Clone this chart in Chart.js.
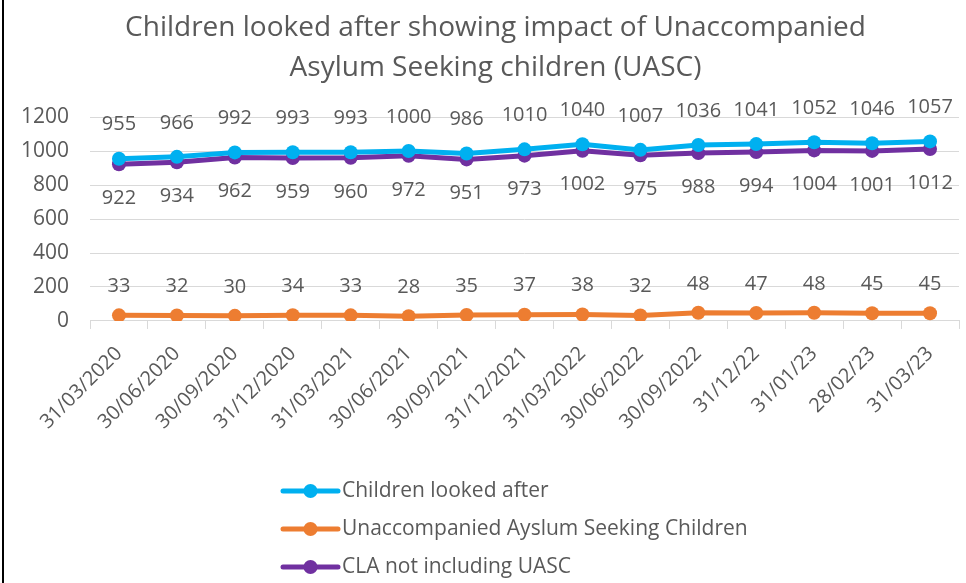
<!DOCTYPE html>
<html>
<head>
<meta charset="utf-8">
<script src="https://cdn.jsdelivr.net/npm/chart.js@4.4.0/dist/chart.umd.min.js"></script>
<style>
html,body{margin:0;padding:0;background:#fff;}
#wrap{position:absolute;left:0;top:0;width:966px;height:583px;}
#edge{position:absolute;left:2px;top:0;width:2px;height:583px;background:#000;}
canvas{display:block;}
</style>
</head>
<body>
<div id="wrap"><canvas id="c" width="966" height="583"></canvas></div>
<div id="edge"></div>
<script>
const categories = ["31/03/2020","30/06/2020","30/09/2020","31/12/2020","31/03/2021","30/06/2021","30/09/2021","31/12/2021","31/03/2022","30/06/2022","30/09/2022","31/12/22","31/01/23","28/02/23","31/03/23"];
const childrenLookedAfter = [955,966,992,993,993,1000,986,1010,1040,1007,1036,1041,1052,1046,1057];
const uasc = [33,32,30,34,33,28,35,37,38,32,48,47,48,45,45];
const claNotUasc = [922,934,962,959,960,972,951,973,1002,975,988,994,1004,1001,1012];
const seriesNames = ["Children looked after","Unaccompanied Ayslum Seeking Children","CLA not including UASC"];
const yTicks = [0,200,400,600,800,1000,1200];
const titleLines = ["Children looked after showing impact of Unaccompanied","Asylum Seeking children (UASC)"];

const FONT = "'Open Sans', sans-serif";
const TXT = '#595959';

const titleShift = {
  id: 'titleShift',
  afterLayout(chart) {
    if (chart.titleBlock) { chart.titleBlock.left = 28; }
  }
};

const labelPlugin = {
  id: 'valueLabels',
  afterDatasetsDraw(chart) {
    const ctx = chart.ctx;
    ctx.save();
    ctx.font = '20px ' + FONT;
    ctx.fillStyle = TXT;
    ctx.textAlign = 'center';
    ctx.textBaseline = 'middle';
    chart.data.datasets.forEach((ds, i) => {
      const meta = chart.getDatasetMeta(i);
      const off = ds.labelOffset;
      meta.data.forEach((pt, j) => {
        ctx.fillText(String(ds.data[j]), pt.x, pt.y + off);
      });
    });
    ctx.restore();
  }
};

const legendPlugin = {
  id: 'vLegend',
  afterDraw(chart) {
    const ctx = chart.ctx;
    ctx.save();
    const x0 = 283, lineLen = 55, rows = [491, 529, 567];
    chart.data.datasets.forEach((ds, i) => {
      const y = rows[i];
      ctx.strokeStyle = ds.borderColor;
      ctx.lineWidth = 5;
      ctx.lineCap = 'round';
      ctx.beginPath();
      ctx.moveTo(x0, y);
      ctx.lineTo(x0 + lineLen, y);
      ctx.stroke();
      ctx.fillStyle = ds.backgroundColor;
      ctx.beginPath();
      ctx.arc(x0 + lineLen / 2, y, 7, 0, Math.PI * 2);
      ctx.fill();
      ctx.fillStyle = TXT;
      ctx.font = '21px ' + FONT;
      ctx.textAlign = 'left';
      ctx.textBaseline = 'middle';
      ctx.fillText(ds.label, x0 + lineLen + 4, y);
    });
    ctx.restore();
  }
};

function mk(label, data, color, off) {
  return {
    label: label, data: data,
    borderColor: color, backgroundColor: color,
    borderWidth: 5, pointRadius: 7, pointHoverRadius: 7,
    pointBorderWidth: 0, tension: 0, labelOffset: off
  };
}

new Chart(document.getElementById('c'), {
  type: 'line',
  data: {
    labels: categories,
    datasets: [
      mk(seriesNames[0], childrenLookedAfter, '#00B0F0', -34),
      mk(seriesNames[1], uasc, '#ED7D31', -29),
      mk(seriesNames[2], claNotUasc, '#7030A0', 34)
    ]
  },
  options: {
    responsive: false,
    animation: false,
    layout: { padding: { left: 10, right: 3, top: 8, bottom: 136 } },
    plugins: {
      legend: { display: false },
      tooltip: { enabled: false },
      title: {
        display: true,
        text: titleLines,
        color: TXT,
        font: { family: FONT, size: 28, weight: 'normal', lineHeight: 1.43 },
        padding: { top: 0, bottom: 29 }
      }
    },
    scales: {
      x: {
        offset: true,
        grid: { display: true, drawOnChartArea: false, drawTicks: true, tickLength: 8, color: '#d9d9d9', offset: true },
        border: { display: true, color: '#d9d9d9', width: 1 },
        ticks: {
          color: TXT, font: { family: FONT, size: 20 },
          minRotation: 45, maxRotation: 45, autoSkip: false, padding: 13
        }
      },
      y: {
        min: 0, max: 1200,
        afterBuildTicks(axis) { axis.ticks = yTicks.map(v => ({ value: v })); },
        afterFit(axis) { axis.width = 80; },
        grid: { color: '#d9d9d9', lineWidth: 1, drawTicks: false },
        border: { display: false },
        ticks: { color: TXT, font: { family: FONT, size: 21 }, padding: 21, callback: v => String(v) }
      }
    }
  },
  plugins: [titleShift, labelPlugin, legendPlugin]
});
</script>
</body>
</html>
